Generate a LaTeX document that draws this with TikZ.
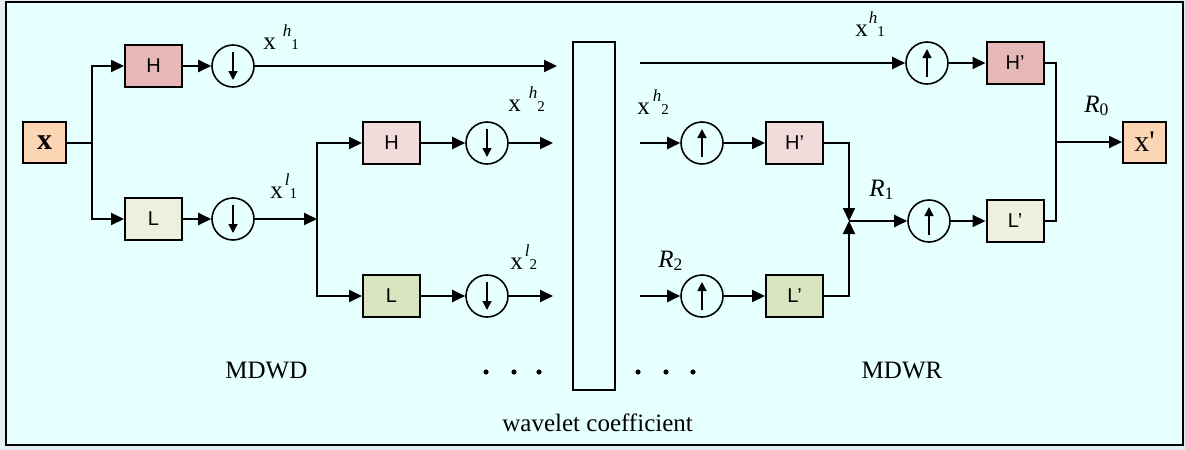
\documentclass[tikz,border=0pt]{standalone}
\usepackage{amsmath}
\usepackage{fontspec}
\setmainfont{Liberation Serif}
\newfontfamily\sansf{Liberation Sans}
\newfontfamily\qfont{Liberation Serif}[Ligatures=TeXOff]
\usetikzlibrary{arrows.meta}
\definecolor{bgout}{HTML}{E4ECF4}
\definecolor{bgin}{HTML}{E6FFFF}
\definecolor{hdark}{HTML}{E6B8B7}
\definecolor{hlight}{HTML}{F2DCDB}
\definecolor{ldark}{HTML}{D7E4BD}
\definecolor{llight}{HTML}{EBF1DE}
\definecolor{peach}{HTML}{FCD5B5}
% x, gap, raised italic superscript, digit on the baseline
\newcommand{\xsig}[3]{x\hspace{#3}\raisebox{0.5em}{\fontsize{8.5}{8.5}\selectfont\textit{#1}}{\fontsize{7.5}{7.5}\selectfont #2}}
\tikzset{
  fbox/.style={draw, line width=1pt, minimum width=28.5pt, minimum height=21pt, inner sep=0pt, font=\sansf\fontsize{10}{10}\selectfont},
  iobox/.style={draw, line width=1pt, minimum width=21.5pt, minimum height=20.5pt, inner sep=0pt, fill=peach, font=\qfont\fontsize{15}{15}\selectfont},
  samp/.style={circle, draw, line width=0.8pt, minimum size=21pt, inner sep=0pt},
  downs/.style={samp, path picture={\draw[-{Triangle[length=4.5pt,width=4.5pt]}, line width=0.8pt] ([yshift=7pt]path picture bounding box.center) -- ([yshift=-7pt]path picture bounding box.center);}},
  ups/.style={samp, path picture={\draw[-{Triangle[length=4.5pt,width=4.5pt]}, line width=0.8pt] ([yshift=-7pt]path picture bounding box.center) -- ([yshift=7pt]path picture bounding box.center);}},
  arr/.style={line width=1pt, -{Triangle[length=6.5pt,width=6pt]}},
  con/.style={line width=1pt},
  lbl/.style={font=\fontsize{12.5}{12.5}\selectfont, inner sep=0pt, anchor=base west},
}
\begin{document}
\begin{tikzpicture}[x=0.5pt, y=-0.5pt]
\useasboundingbox (0,0) rectangle (1185,450);
\fill[bgout] (0,0) rectangle (1185,450);
\draw[fill=bgin, line width=1pt] (6,1.5) rectangle (1183,445);

% ---------- decomposition ----------
\node[iobox, font=\qfont\bfseries\fontsize{15}{15}\selectfont] (X) at (44.5,142.5) {x};
\node[fbox, fill=hdark]  (H1) at (153.5,66) {H};
\node[fbox, fill=llight] (L1) at (153.5,219) {L};
\node[downs] (D1) at (233,66) {};
\node[downs] (D2) at (233,219) {};
\node[fbox, fill=hlight] (H2) at (391.5,143) {H};
\node[fbox, fill=ldark]  (L2) at (391.5,296) {L};
\node[downs] (D3) at (487,143) {};
\node[downs] (D4) at (487,296) {};

\coordinate (j0) at (92,142.5);
\coordinate (j1) at (317,219);
\coordinate (t1) at (557,66);
\coordinate (t2) at (553,143);
\coordinate (t3) at (553,296);

\draw[con] (X.east) -- (j0);
\draw[arr] (j0) |- (H1.west);
\draw[arr] (j0) |- (L1.west);
\draw[arr] (H1) -- (D1);
\draw[arr] (L1) -- (D2);
\draw[arr] (D1) -- (t1);
\draw[arr] (D2) -- (j1);
\draw[arr] (j1) |- (H2.west);
\draw[arr] (j1) |- (L2.west);
\draw[arr] (H2) -- (D3);
\draw[arr] (L2) -- (D4);
\draw[arr] (D3) -- (t2);
\draw[arr] (D4) -- (t3);

% ---------- wavelet coefficient ----------
\node[draw, line width=1pt, minimum width=21pt, minimum height=174pt, inner sep=0pt] (W) at (594,216) {};

% ---------- reconstruction ----------
\coordinate (s1) at (640,63);
\coordinate (s2) at (640,143);
\coordinate (s3) at (640,296);
\node[ups] (U1) at (927,63) {};
\node[ups] (U2) at (702,143) {};
\node[ups] (U3) at (702,296) {};
\node[ups] (U4) at (929,221) {};
\node[fbox, fill=hdark]  (Hp1) at (1015,63) {H’};
\node[fbox, fill=hlight] (Hp2) at (794.5,143) {H’};
\node[fbox, fill=ldark]  (Lp2) at (794.5,296) {L’};
\node[fbox, fill=llight] (Lp1) at (1015,221) {L’};
\node[iobox] (Xp) at (1144.5,142) {x'};
\coordinate (jR1) at (849,221);
\coordinate (jR0) at (1056,142);

\draw[arr] (s1) -- (U1);
\draw[arr] (U1) -- (Hp1);
\draw[arr] (s2) -- (U2);
\draw[arr] (U2) -- (Hp2);
\draw[arr] (s3) -- (U3);
\draw[arr] (U3) -- (Lp2);
\draw[arr] (Hp2.east) -| (jR1);
\draw[arr] (Lp2.east) -| (jR1);
\draw[arr] (jR1) -- (U4);
\draw[arr] (U4) -- (Lp1);
\draw[con] (Hp1.east) -| (jR0);
\draw[con] (Lp1.east) -| (jR0);
\draw[arr] (jR0) -- (Xp.west);

% ---------- labels ----------
\node[lbl] (lx1h) at (263,49)  {\xsig{h}{1}{3.5pt}};
\node[lbl] (lx1l) at (270,198) {\xsig{l}{1}{1pt}};
\node[lbl] (lx2h) at (508,111) {\xsig{h}{2}{4pt}};
\node[lbl] (lx2l) at (510,269) {\xsig{l}{2}{1pt}};
\node[lbl] (rx1h) at (855,36)  {\xsig{h}{1}{0.5pt}};
\node[lbl] (rx2h) at (637,114) {\xsig{h}{2}{1.5pt}};
\node[lbl] (r2) at (658,267) {\textit{R}$_{\text{2}}$};
\node[lbl] (r1) at (869,196) {\textit{R}$_{\text{1}}$};
\node[lbl] (r0) at (1084,112) {\textit{R}$_{\text{0}}$};
\node[lbl] (mdwd) at (225,378) {MDWD};
\node[lbl, anchor=base] (mdwr) at (902,378) {MDWR};
\node[lbl] (wc) at (502,431) {wavelet coefficient};

\foreach \px in {486,514,539,638,666,693}
  \fill (\px,372) circle (1.3pt);
\end{tikzpicture}
\end{document}
